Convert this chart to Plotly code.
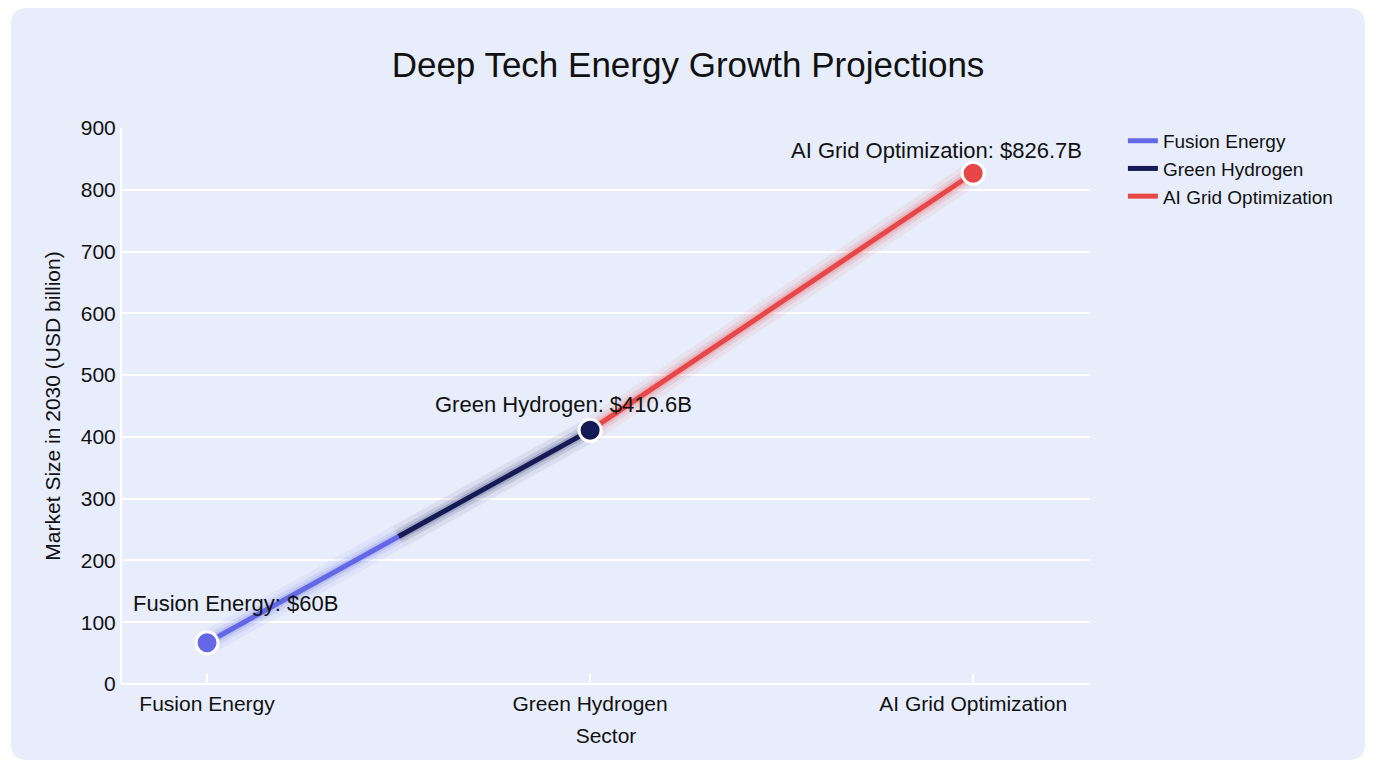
import plotly.graph_objects as go

# ---- data ----
sectors = ["Fusion Energy", "Green Hydrogen", "AI Grid Optimization"]
market_size = [66.8, 410.6, 826.7]
value_labels = ["$60B", "$410.6B", "$826.7B"]
y_ticks = [0, 100, 200, 300, 400, 500, 600, 700, 800, 900]

# ---- style ----
colors = ["#6468e6", "#161a55", "#e84747"]
glow_colors = ["rgba(100,104,230,{a})", "rgba(22,26,85,{a})", "rgba(232,71,71,{a})"]
label_offsets = [(28, 39), (-27, 26), (-37, 23)]  # (xshift, yshift) in px
FONT = "Liberation Sans, Arial, Helvetica, sans-serif"
W, H = 1376, 768
ML, MR, MT, MB = 122, 286, 128, 84
PW, PH = W - ML - MR, H - MT - MB
CARD = "#e7edfa"

xs = list(range(len(sectors)))
mid = (xs[0] + xs[1]) / 2
mid_y = (market_size[0] + market_size[1]) / 2
segments = [
    ([xs[0], mid], [market_size[0], mid_y]),
    ([mid, xs[1]], [mid_y, market_size[1]]),
    ([xs[1], xs[2]], [market_size[1], market_size[2]]),
]

fig = go.Figure()

# glow layers
for (sx, sy), gc in zip(segments, glow_colors):
    for w, a in [(24, 0.07), (15, 0.12), (9, 0.18)]:
        fig.add_trace(go.Scatter(x=sx, y=sy, mode="lines", showlegend=False, hoverinfo="skip",
                                 line=dict(color=gc.format(a=a), width=w, shape="linear")))

# main lines (legend entries)
for name, (sx, sy), c in zip(sectors, segments, colors):
    fig.add_trace(go.Scatter(x=sx, y=sy, mode="lines", name=name,
                             line=dict(color=c, width=5)))

# markers
for i, (name, v, c) in enumerate(zip(sectors, market_size, colors)):
    fig.add_trace(go.Scatter(x=[xs[i]], y=[v], mode="markers", showlegend=False, name=name,
                             marker=dict(size=22, color=c, line=dict(color="white", width=3))))

# value labels
for i, (name, v, lab) in enumerate(zip(sectors, market_size, value_labels)):
    dx, dy = label_offsets[i]
    fig.add_annotation(x=xs[i], y=v, text=f"{name}: {lab}", showarrow=False,
                       xshift=dx, yshift=dy, font=dict(size=22, color="#111111", family=FONT))

# rounded background card (paper coords)
cx0, cx1 = (11 - ML) / PW, (1365 - ML) / PW
cy1, cy0 = (MT + PH - 8) / PH, (MT + PH - 760) / PH
rx, ry = 16 / PW, 16 / PH
path = (f"M{cx0+rx},{cy1} L{cx1-rx},{cy1} Q{cx1},{cy1} {cx1},{cy1-ry} "
        f"L{cx1},{cy0+ry} Q{cx1},{cy0} {cx1-rx},{cy0} L{cx0+rx},{cy0} "
        f"Q{cx0},{cy0} {cx0},{cy0+ry} L{cx0},{cy1-ry} Q{cx0},{cy1} {cx0+rx},{cy1} Z")
fig.add_shape(type="path", path=path, xref="paper", yref="paper", layer="below",
              fillcolor=CARD, line=dict(width=0))

fig.update_layout(
    width=W, height=H,
    margin=dict(l=ML, r=MR, t=MT, b=MB),
    paper_bgcolor="white",
    plot_bgcolor="rgba(0,0,0,0)",
    font=dict(family=FONT, size=21, color="#111111"),
    title=dict(text="Deep Tech Energy Growth Projections", x=0.5, xref="container",
               y=1 - 65 / H, yref="container", yanchor="middle", xanchor="center",
               font=dict(size=35, color="#111111", family=FONT)),
    legend=dict(x=1.034, y=1.011, xanchor="left", yanchor="top", bgcolor="rgba(0,0,0,0)",
                font=dict(size=19, color="#111111", family=FONT), tracegroupgap=0),
    xaxis=dict(tickmode="array", tickvals=xs, ticktext=sectors, range=[-0.222, 2.305],
               showgrid=False, zeroline=False, showline=False,
               ticks="inside", ticklen=10, tickwidth=2, tickcolor="white",
               ticklabelstandoff=5,
               title=dict(text="Sector", font=dict(size=21), standoff=14),
               tickfont=dict(size=21)),
    yaxis=dict(range=[0, 900], tickmode="array", tickvals=y_ticks,
               showgrid=True, gridcolor="white", gridwidth=2,
               zeroline=True, zerolinecolor="white", zerolinewidth=2,
               showline=True, linecolor="white", linewidth=2,
               title=dict(text="Market Size in 2030 (USD billion)", font=dict(size=21), standoff=14),
               tickfont=dict(size=21)),
    showlegend=True,
)

fig.write_html("out.html")
